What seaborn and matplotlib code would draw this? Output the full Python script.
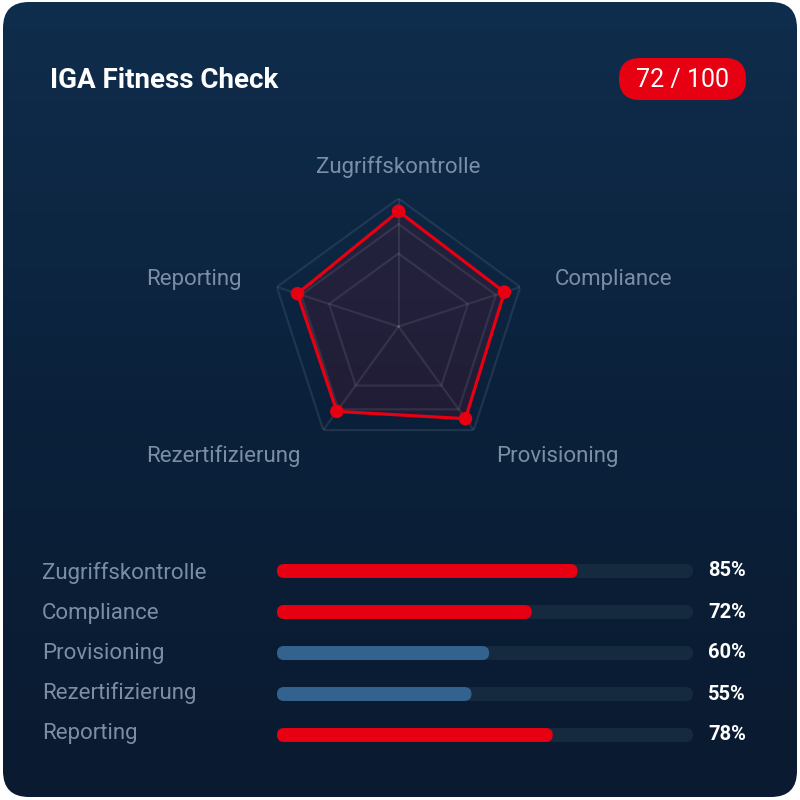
import numpy as np
import pandas as pd
import matplotlib
matplotlib.use("Agg")
import matplotlib.pyplot as plt
import seaborn as sns
from matplotlib.patches import FancyBboxPatch
from matplotlib.colors import LinearSegmentedColormap
from matplotlib.transforms import blended_transform_factory

# ---------------- data ----------------
title = "IGA Fitness Check"
score = 72
score_max = 100
categories = ["Zugriffskontrolle", "Compliance", "Provisioning", "Rezertifizierung", "Reporting"]
radar_values = [90, 87, 89, 82, 83]
radar_rings = [57, 80, 100]
bar_values = [85, 72, 60, 55, 78]
bar_tier = ["hoch", "hoch", "mittel", "mittel", "hoch"]

# ---------------- style ----------------
sns.set_style("dark", {"axes.facecolor": "none", "figure.facecolor": "white"})
plt.rcParams["font.family"] = ["Roboto", "DejaVu Sans"]

RED = "#e60012"
BLUE = "#33628f"
TRACK = "#15293f"
LABEL = "#7b8ea6"
GRID = (1, 1, 1, 0.085)
TRACK_MAX = 100 / 0.85

W = H = 800
fig = plt.figure(figsize=(8, 8), dpi=100)
fig.patch.set_facecolor("white")

# background card
ax_bg = fig.add_axes([0, 0, 1, 1])
ax_bg.set_xlim(0, W)
ax_bg.set_ylim(H, 0)
ax_bg.axis("off")
card = FancyBboxPatch((3, 2), 794, 795, boxstyle="round,pad=0,rounding_size=26",
                      facecolor="none", edgecolor="none")
ax_bg.add_patch(card)
cmap = LinearSegmentedColormap.from_list("bg", ["#0f2d4c", "#0b213b", "#0a1a30"])
grad = np.linspace(0, 1, 256).reshape(-1, 1)
im = ax_bg.imshow(grad, cmap=cmap, extent=(3, 797, 797, 2), origin="upper",
                  aspect="auto", zorder=0)
im.set_clip_path(card)

# title + badge
fig.text(50 / W, 1 - 80 / H, title, color="white", fontsize=20,
         fontweight="bold", ha="left", va="center")
badge = FancyBboxPatch((619, 58), 127, 42, boxstyle="round,pad=0,rounding_size=21",
                       facecolor=RED, edgecolor="none", zorder=2)
ax_bg.add_patch(badge)
ax_bg.text(682.5, 79.5, f"{score} / {score_max}", color="white", fontsize=18,
           ha="center", va="center", zorder=3)

# ---------------- radar ----------------
cx, cy, R = 398.5, 326.5, 128
ax_r = fig.add_axes([(cx - R) / W, (H - cy - R) / H, 2 * R / W, 2 * R / H],
                    projection="polar")
ax_r.set_facecolor("none")
ax_r.set_theta_offset(np.pi / 2)
ax_r.set_theta_direction(-1)
theta = np.linspace(0, 2 * np.pi, len(categories), endpoint=False)
th_closed = np.append(theta, theta[0])
vals_closed = np.append(radar_values, radar_values[0])

ax_r.fill(th_closed, vals_closed, color=RED, alpha=0.1, lw=0, zorder=1)
for lvl in radar_rings:
    ax_r.plot(th_closed, [lvl] * len(th_closed), color=GRID, lw=1.6, zorder=2)
for t in theta:
    ax_r.plot([t, t], [0, radar_rings[-1]], color=GRID, lw=1.6, zorder=2)
ax_r.plot(th_closed, vals_closed, color=RED, lw=2.3, zorder=3)
radar_df = pd.DataFrame({"theta": theta, "value": radar_values})
sns.scatterplot(data=radar_df, x="theta", y="value", ax=ax_r, color=RED, s=95,
                edgecolor="none", zorder=4, legend=False)
ax_r.set_ylim(0, 100)
ax_r.set_xticks([])
ax_r.set_yticks([])
ax_r.set_xlabel("")
ax_r.set_ylabel("")
ax_r.grid(False)
ax_r.spines["polar"].set_visible(False)

for t, lab in zip(theta, categories):
    s, c = np.sin(t), np.cos(t)
    ha = "center" if abs(s) < 0.1 else ("left" if s > 0 else "right")
    dx = 0 if abs(s) < 0.1 else 2 * np.sign(s)
    dy = -3 if c > -0.5 else 2
    ax_r.annotate(lab, xy=(t, 127), xytext=(dx, dy), textcoords="offset pixels",
                  color=LABEL, fontsize=16, ha=ha, va="center",
                  annotation_clip=False)

# ---------------- bars ----------------
top_px, row_px = 550.5, 41
n = len(categories)
ax_b = fig.add_axes([277 / W, (H - top_px - row_px * n) / H, 416 / W, row_px * n / H])
bar_df = pd.DataFrame({"cat": categories, "value": bar_values, "tier": bar_tier,
                       "track": [TRACK_MAX] * n})
sns.barplot(data=bar_df, x="track", y="cat", color=TRACK, width=0.34, ax=ax_b,
            saturation=1)
sns.barplot(data=bar_df, x="value", y="cat", hue="tier",
            palette={"hoch": RED, "mittel": BLUE}, width=0.34, dodge=False,
            legend=False, ax=ax_b, saturation=1)
ax_b.set_xlim(0, TRACK_MAX)
ax_b.set_ylim(n - 0.5, -0.5)
ax_b.axis("off")

# round bar ends
fig.canvas.draw()
bb = ax_b.get_window_extent()
xu = TRACK_MAX / bb.width
yu = n / bb.height
m_asp = yu / xu
for p in list(ax_b.patches):
    x, y, w, h = p.get_x(), p.get_y(), p.get_width(), p.get_height()
    if w <= 0:
        p.remove()
        continue
    fc = p.get_facecolor()
    z = p.get_zorder()
    p.remove()
    rs = (h / m_asp) / 2
    ax_b.add_patch(FancyBboxPatch((x, y), w, h,
                                  boxstyle=f"round,pad=0,rounding_size={rs}",
                                  mutation_aspect=m_asp, facecolor=fc,
                                  edgecolor="none", zorder=z))

tr_pct = blended_transform_factory(fig.transFigure, ax_b.transData)
for i, (lab, v) in enumerate(zip(categories, bar_values)):
    fig.text(42 / W, 1 - (573 + 40 * i) / H, lab, color=LABEL, fontsize=16,
             ha="left", va="center")
    ax_b.text(746 / W, i, f"{v}%", transform=tr_pct, color="white", fontsize=14.5,
              fontweight="bold", ha="right", va="center", clip_on=False)

fig.savefig("out.png", dpi=100, facecolor="white")
